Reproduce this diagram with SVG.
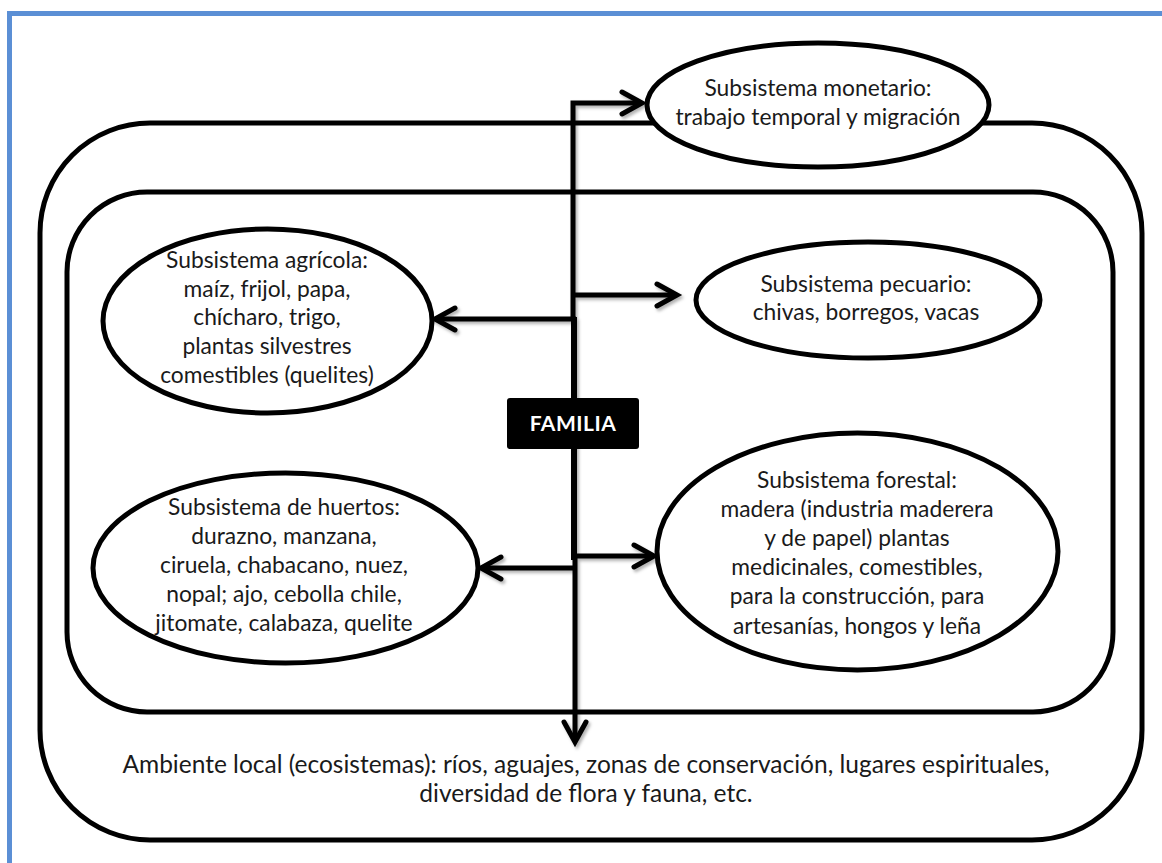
<svg xmlns="http://www.w3.org/2000/svg" width="1162" height="863" viewBox="0 0 1162 863">
  <defs>
    <style>
      .frame { fill: none; stroke: #5b8fd5; stroke-width: 5; }
      .box { fill: none; stroke: #000; stroke-width: 5; }
      .node { fill: #fff; stroke: #000; stroke-width: 5; }
      .conn { fill: none; stroke: #000; stroke-width: 5; stroke-linejoin: miter; }
      .lbl { font-family: Lato, "Open Sans", sans-serif; font-size: 22.8px; fill: #1a1a1a; text-anchor: middle; }
      .env { font-size: 24.5px; }
      .fam { font-family: Lato, "Open Sans", sans-serif; font-size: 21px; font-weight: bold; fill: #fff; text-anchor: middle; letter-spacing: 0.5px; }
    </style>
    <marker id="arrow" viewBox="-24 -14 28 28" markerWidth="28" markerHeight="28" refX="0" refY="0" orient="auto" markerUnits="userSpaceOnUse" overflow="visible">
      <path d="M-20,-11 L0,0 L-20,11" fill="none" stroke="#000" stroke-width="5" stroke-linecap="round" stroke-linejoin="miter"/>
    </marker>
    <filter id="shadow" x="-10%" y="-10%" width="130%" height="130%">
      <feDropShadow dx="2" dy="2.5" stdDeviation="1.8" flood-color="#000" flood-opacity="0.3"/>
    </filter>
  </defs>

  <rect width="1162" height="863" fill="#fff"/>

  <!-- page frame -->
  <path class="frame" d="M9.5,866 V13.5 H1166"/>

  <!-- local environment container -->
  <g id="ambiente">
    <rect class="box" x="40" y="123" width="1102" height="717" rx="110" ry="110"/>
    <text class="lbl env" x="586" y="773">Ambiente local (ecosistemas):  ríos, aguajes, zonas de conservación, lugares espirituales,</text>
    <text class="lbl env" x="586" y="802">diversidad de flora y fauna, etc.</text>
  </g>

  <!-- household production container -->
  <g id="unidad">
    <rect class="box" x="67" y="192" width="1046" height="520" rx="80" ry="80"/>
  </g>

  <!-- connectors -->
  <g id="connectors" filter="url(#shadow)">
    <path class="conn" d="M573,320 V103 H642" marker-end="url(#arrow)"/>
    <path class="conn" d="M573,295 H677" marker-end="url(#arrow)"/>
    <path class="conn" d="M576,319 H435" marker-end="url(#arrow)"/>
    <path class="conn" d="M574,317 V560" style="stroke-width:6"/>
    <path class="conn" d="M574,556 H654" marker-end="url(#arrow)"/>
    <path class="conn" d="M576,568 H481" marker-end="url(#arrow)"/>
    <path class="conn" d="M575,556 V742" marker-end="url(#arrow)"/>
  </g>

  <g id="monetario">
    <ellipse class="node" cx="818" cy="105" rx="171" ry="62"/>
    <text class="lbl" x="818" y="96">Subsistema monetario:</text>
    <text class="lbl" x="818" y="125">trabajo temporal y migración</text>
  </g>

  <g id="agricola">
    <ellipse class="node" cx="267.5" cy="321" rx="164.5" ry="92"/>
    <text class="lbl" x="267" y="268">Subsistema agrícola:</text>
    <text class="lbl" x="267" y="297">maíz, frijol, papa,</text>
    <text class="lbl" x="267" y="325">chícharo, trigo,</text>
    <text class="lbl" x="267" y="354">plantas silvestres</text>
    <text class="lbl" x="267" y="383">comestibles (quelites)</text>
  </g>

  <g id="pecuario">
    <ellipse class="node" cx="868" cy="300" rx="172" ry="58"/>
    <text class="lbl" x="866" y="292">Subsistema pecuario:</text>
    <text class="lbl" x="866" y="320">chivas, borregos, vacas</text>
  </g>

  <g id="huertos">
    <ellipse class="node" cx="285.5" cy="568" rx="192.5" ry="95"/>
    <text class="lbl" x="284" y="515">Subsistema de huertos:</text>
    <text class="lbl" x="284" y="544">durazno, manzana,</text>
    <text class="lbl" x="284" y="573">ciruela, chabacano, nuez,</text>
    <text class="lbl" x="284" y="602">nopal; ajo, cebolla chile,</text>
    <text class="lbl" x="284" y="631">jitomate, calabaza, quelite</text>
  </g>

  <g id="forestal">
    <ellipse class="node" cx="857.5" cy="551.5" rx="200.5" ry="118.5"/>
    <text class="lbl" x="857" y="488">Subsistema forestal:</text>
    <text class="lbl" x="857" y="517">madera (industria maderera</text>
    <text class="lbl" x="857" y="546">y de papel) plantas</text>
    <text class="lbl" x="857" y="575">medicinales, comestibles,</text>
    <text class="lbl" x="857" y="604">para la construcción, para</text>
    <text class="lbl" x="857" y="634">artesanías, hongos y leña</text>
  </g>

  <g id="familia">
    <rect x="507" y="398" width="132" height="51" rx="3" ry="3" fill="#000"/>
    <text class="fam" x="573" y="431">FAMILIA</text>
  </g>
</svg>
